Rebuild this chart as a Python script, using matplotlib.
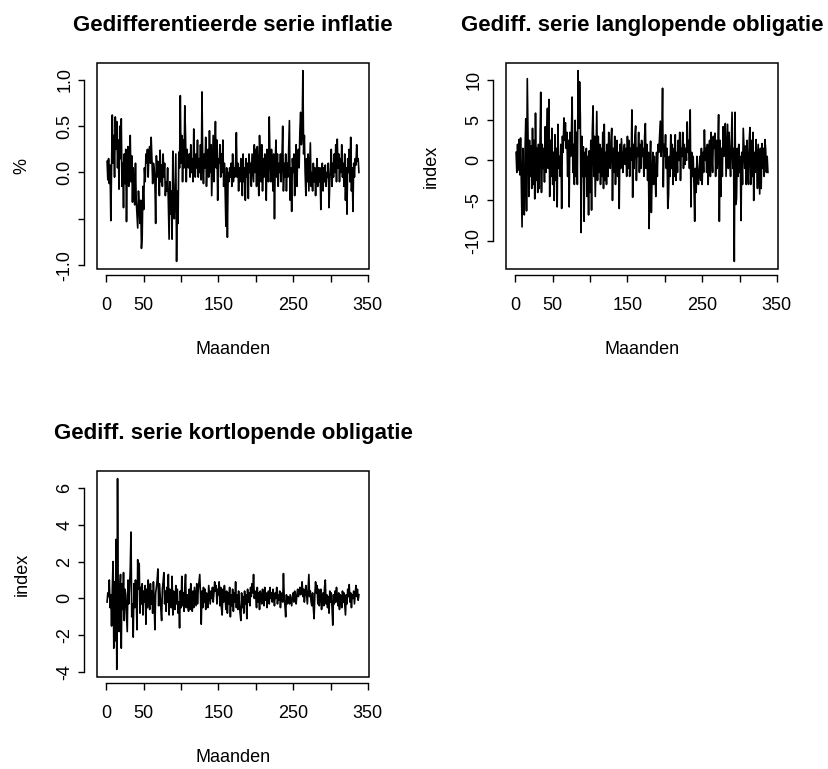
import numpy as np
import matplotlib

matplotlib.use("Agg")
from matplotlib import pyplot as plt
from matplotlib.patches import Rectangle

plt.rcParams["font.family"] = ["Liberation Sans", "DejaVu Sans"]
plt.rcParams["axes.unicode_minus"] = False

# Gedifferentieerde reeksen, 338 maanden
inflatie = [
    0.12, -0.08, 0.15, -0.12, 0.08, -0.52, 0.05, 0.62, 0.1, 0.4,
    -0.05, 0.6, 0.25, 0.55, 0.05, 0.35, -0.18, 0.5, 0.15, 0.58,
    -0.15, 0.1, -0.38, 0.2, -0.12, 0.25, -0.53, 0.1, 0.28, -0.15,
    0.0, 0.4, -0.1, 0.18, -0.32, 0.05, -0.2, -0.35, 0.1, -0.3,
    -0.45, -0.6, -0.2, -0.35, -0.55, -0.3, -0.82, -0.69, -0.15, -0.4,
    0.05, -0.1, 0.2, 0.1, 0.25, -0.05, 0.22, 0.28, 0.1, 0.38,
    0.15, -0.12, 0.1, 0.05, -0.1, -0.55, 0.18, -0.05, 0.12, 0.0,
    -0.25, 0.24, -0.1, 0.08, -0.15, 0.2, -0.05, 0.1, -0.25, -0.1,
    -0.2, 0.05, -0.35, -0.72, -0.1, -0.45, -0.2, -0.72, 0.23, -0.35,
    -0.5, -0.15, 0.2, -0.96, -0.2, -0.55, 0.22, 0.05, 0.83, 0.1,
    0.4, -0.1, 0.35, 0.05, 0.72, 0.4, -0.1, 0.25, 0.1, 0.05,
    0.2, -0.05, 0.3, 0.0, 0.15, -0.1, 0.47, 0.1, -0.05, 0.2,
    0.05, 0.35, -0.05, 0.15, 0.0, 0.3, -0.08, 0.87, 0.1, -0.12,
    0.2, 0.05, 0.38, -0.15, 0.1, 0.25, -0.05, 0.45, 0.0, 0.3,
    -0.25, 0.1, 0.4, -0.1, 0.2, 0.55, 0.05, 0.35, -0.3, 0.15,
    0.1, 0.3, -0.05, 0.2, 0.0, 0.35, -0.15, 0.1, -0.2, -0.58,
    0.05, -0.7, 0.0, -0.1, 0.05, -0.05, 0.1, -0.15, 0.2, -0.1,
    0.05, -0.05, 0.1, 0.43, -0.05, 0.1, -0.2, 0.05, -0.1, 0.15,
    0.0, -0.25, 0.2, -0.1, 0.05, -0.3, 0.15, -0.05, 0.1, -0.28,
    0.2, 0.0, 0.1, -0.15, 0.2, 0.05, -0.1, 0.3, 0.0, 0.25,
    -0.15, 0.28, 0.05, -0.25, 0.4, 0.1, -0.1, 0.3, -0.2, 0.15,
    -0.05, 0.2, 0.05, -0.3, 0.25, 0.1, -0.1, 0.6, 0.15, -0.1,
    0.25, 0.05, -0.2, 0.2, -0.5, 0.1, 0.35, -0.05, 0.2, -0.15,
    0.1, 0.0, 0.2, -0.1, 0.15, 0.5, -0.2, 0.1, -0.05, 0.2,
    -0.2, 0.1, -0.05, 0.25, 0.56, -0.3, 0.05, -0.42, 0.15, 0.0,
    0.2, -0.25, 0.1, 0.3, -0.15, 0.15, 0.25, 0.05, 0.45, 0.65,
    0.3, 0.42, 1.1, 0.2, 0.4, 0.0, -0.25, 0.15, -0.1, 0.2,
    -0.2, 0.05, 0.32, -0.15, 0.0, -0.2, 0.1, -0.1, 0.05, -0.25,
    0.0, 0.15, -0.15, 0.05, -0.1, 0.05, -0.4, 0.0, 0.1, -0.2,
    0.05, -0.1, 0.08, -0.15, 0.0, -0.05, 0.1, -0.38, -0.1, 0.05,
    0.25, -0.15, 0.1, -0.05, 0.2, 0.0, 0.3, -0.1, 0.36, 0.05,
    0.2, -0.1, 0.15, 0.0, 0.3, -0.05, 0.1, -0.15, 0.2, -0.3,
    0.05, -0.45, 0.15, 0.0, 0.25, -0.1, 0.38, -0.2, 0.05, -0.42,
    0.1, -0.05, 0.15, 0.08, 0.3, 0.12, 0.15, 0.0,
]

langlopend = [
    1.0, -1.5, 2.0, -1.2, 2.6, -1.8, 2.8, -2.5, -8.3, 1.5,
    -4.5, -6.8, 1.2, 5.2, -6.3, 10.2, 3.0, -4.5, 2.5, -2.0,
    1.8, -3.5, 4.0, -3.0, 2.5, -4.8, 5.9, -2.5, 1.5, -4.0,
    2.0, -3.5, 1.8, 8.5, -4.0, 2.0, -1.0, 1.5, -2.7, 4.2,
    -1.5, 3.0, 6.5, -1.0, 7.6, -4.5, 2.5, -2.0, 4.0, -3.0,
    1.0, -5.0, 3.2, -2.5, 1.5, -5.8, 4.5, -1.0, 0.5, -2.0,
    2.0, -6.0, 3.0, 1.0, 5.3, 2.5, 4.7, 1.5, 3.5, -2.0,
    2.5, -5.8, 3.5, 0.5, 3.0, 7.9, -1.5, 2.0, -3.0, 5.0,
    -2.0, 3.5, -3.0, 11.2, 4.0, 9.8, 5.5, -9.0, 3.0, -2.0,
    1.7, -7.6, 1.0, -2.0, 1.5, -4.5, 0.5, -6.8, 1.2, -4.0,
    2.5, -6.2, 3.5, 6.8, -2.0, 3.0, -4.5, 1.0, 6.1, -2.5,
    3.0, -1.5, 2.0, -3.0, 1.5, -2.0, 3.5, -3.5, 4.5, -2.5,
    1.0, -3.0, 2.0, -2.0, 3.5, 0.0, -1.0, 2.5, 4.0, -5.0,
    1.5, -1.5, 3.0, -3.0, 0.5, 2.5, -2.0, 1.0, -6.0, 2.0,
    -1.0, 2.7, 0.5, -1.5, 1.0, 2.0, -0.5, 1.5, -2.0, 3.0,
    -1.0, 2.5, -2.0, 1.5, 0.0, 6.3, -4.6, 2.0, -1.0, 3.0,
    4.3, -2.5, 1.5, 0.5, 3.5, -1.5, 2.0, -1.0, 2.5, 0.5,
    1.5, -2.0, 3.0, 4.6, -1.0, 2.0, -2.5, 1.0, -8.5, -1.5,
    2.4, -6.5, -2.0, 1.0, -3.0, 0.5, -1.5, -4.5, 1.0, -2.0,
    2.0, 1.0, 3.0, 4.9, 0.5, 2.5, 9.0, -3.3, 2.0, 0.5,
    3.2, -1.0, 1.5, -6.0, -4.5, 0.5, -2.0, 3.2, -1.0, 2.0,
    -3.0, 1.5, -2.0, 3.2, -2.5, 1.0, -1.5, 2.5, 0.0, 3.5,
    -2.5, 1.5, 0.5, 3.5, -1.0, 2.0, -0.5, 1.5, 0.0, 4.8,
    1.0, 2.5, -1.0, 6.3, -5.8, 1.0, -2.0, 0.5, -3.0, -7.6,
    -1.0, -4.0, 0.5, -2.0, -3.0, -1.0, 0.5, -2.5, 1.5, -3.0,
    1.0, -1.5, 3.8, 0.0, 1.5, -1.5, 2.0, -3.0, 1.0, 2.5,
    -2.0, 3.5, 0.5, -1.5, 3.0, 1.5, 3.4, -2.0, 2.5, -1.0,
    1.5, 5.7, -7.6, 2.5, -4.5, 1.5, -2.0, 4.2, 0.5, 3.0,
    4.6, -2.0, 1.5, 4.5, -1.0, 3.5, 0.5, -2.0, 2.0, 6.0,
    -1.0, 1.5, -12.6, 6.0, -5.5, -4.8, 1.5, -2.0, 2.0, -1.5,
    0.5, -7.5, 1.0, -3.0, 4.0, 1.5, -1.0, 1.8, -3.0, 2.5,
    -1.0, -3.0, 2.5, 4.1, -3.0, 2.5, -2.0, 3.5, -5.0, 1.0,
    -1.5, 2.6, 0.5, -3.5, 2.0, -1.0, -4.2, 1.5, -3.5, 2.1,
    -1.0, 1.5, -2.0, 2.6, 1.3, -1.5, 0.5, -1.5,
]

kortlopend = [
    -0.2, 0.3, 0.1, 1.0, -0.5, 0.2, -1.5, 0.5, 2.0, -2.7,
    0.9, -2.3, 3.2, -3.85, 6.5, -0.5, -1.8, 0.5, 1.3, -2.7,
    0.8, -0.6, 1.4, -1.2, 0.5, 0.2, -0.8, -1.8, 1.0, -0.3,
    0.5, 1.6, 3.6, -1.0, -0.3, -2.1, 0.8, -0.5, 1.0, 0.2,
    -1.7, 2.1, 0.5, 1.9, -0.8, 0.6, -0.3, 0.8, -0.9, 0.4,
    -0.2, 0.7, -1.4, 0.5, -0.5, 1.0, 0.1, -0.6, 0.8, -0.3,
    0.4, -0.8, 0.9, -0.2, -1.7, 0.3, 0.6, 1.0, 1.6, -0.4,
    0.8, 0.2, -0.6, -1.2, 0.5, 0.9, 1.4, -0.3, 0.4, -0.7,
    0.6, -0.2, 1.3, -0.9, 0.5, 0.3, -0.5, 1.2, -0.9, 0.4,
    0.2, -0.6, 0.7, -0.3, 0.5, -0.8, -0.2, -1.6, 0.4, -0.5,
    1.2, -0.4, 0.3, -0.7, 0.6, 1.3, -0.5, 0.2, -0.3, -0.7,
    0.5, -0.6, 0.8, -0.2, -0.7, 0.4, -0.5, 0.6, 0.1, -0.4,
    0.8, -0.3, 0.5, 0.9, 1.3, 0.2, -1.4, 0.4, -0.5, 0.6,
    -0.2, 0.5, -0.6, 0.3, 0.1, -0.5, 0.7, 0.2, -0.3, 0.4,
    0.0, 0.6, -0.2, 0.3, 0.9, 0.4, 0.7, -0.3, 0.5, 0.2,
    0.9, -0.4, 0.6, -0.5, -0.9, 0.5, -0.2, 0.7, 0.1, -0.6,
    0.4, -0.8, 0.3, -0.3, 0.6, -1.0, 0.2, -0.4, 0.5, -0.7,
    0.3, -0.2, 0.9, -0.5, 0.2, -0.6, 0.4, -0.3, -0.8, -1.2,
    0.3, -0.5, 0.1, -0.8, 0.4, -0.3, 0.2, -1.1, 0.5, -0.2,
    0.3, -0.4, 0.6, 0.1, 0.8, 0.3, 1.3, 0.0, 0.4, 0.1,
    -0.5, 0.6, -0.2, 0.3, -0.6, 0.4, 0.1, -0.3, 0.5, 0.2,
    -0.4, 0.6, -0.1, 0.3, -0.5, 0.2, 0.4, -0.3, 0.6, 0.0,
    0.3, -0.2, 0.5, 0.1, -0.4, 0.3, 0.0, 0.6, -0.3, 0.2,
    -0.1, 0.4, -0.5, 0.2, 0.3, -0.2, 1.35, 0.1, -0.4, -1.0,
    0.2, -0.3, 0.1, 0.0, -0.3, 0.2, -0.1, -0.4, 0.1, 0.3,
    -0.2, 0.4, 0.0, -0.3, 0.2, 0.5, 0.1, 0.3, 0.6, 0.2,
    0.4, 0.9, 0.1, 0.5, -0.2, 0.3, 0.7, 0.2, -0.3, 0.5,
    1.3, 0.1, 0.4, -0.2, -0.4, 0.3, -0.5, -1.1, 0.2, 0.9,
    0.3, 0.7, -0.3, 0.5, -0.4, 0.2, 0.5, -0.6, 0.1, 0.3,
    -0.4, 0.6, 1.0, -0.3, 0.2, -0.5, 0.1, -0.8, 0.4, -0.2,
    0.3, -0.5, -1.45, 0.2, -0.3, 0.4, -0.2, 0.6, 0.0, -0.4,
    0.3, -0.6, 0.2, 0.1, -0.5, 0.4, -0.2, 0.3, -0.3, -0.9,
    0.2, -0.3, 0.5, 0.1, 0.75, -0.2, 0.3, -0.5, 0.2, 0.0,
    0.4, -0.3, 0.2, 0.7, 0.1, 0.5, -0.1, 0.2,
]

titels = [
    "Gedifferentieerde serie inflatie",
    "Gediff. serie langlopende obligatie",
    "Gediff. serie kortlopende obligatie",
]
y_labels = ["%", "index", "index"]
x_ticks = [0, 50, 100, 150, 200, 250, 300, 350]
x_tick_labels = ["0", "50", "", "150", "", "250", "", "350"]
y_ticks = [
    [-1.0, -0.5, 0.0, 0.5, 1.0],
    [-10, -5, 0, 5, 10],
    [-4, -2, 0, 2, 4, 6],
]
y_tick_labels = [
    ["-1.0", "", "0.0", "0.5", "1.0"],
    ["-10", "-5", "0", "5", "10"],
    ["-4", "-2", "0", "2", "4", "6"],
]

W, H = 829, 769


def r_limits(values):
    """Bereik zoals R het kiest: 4% extra aan beide kanten."""
    lo, hi = np.min(values), np.max(values)
    d = 0.04 * (hi - lo)
    return lo - d, hi + d


def r_panel(fig, box, serie, titel, ylabel, yticks, yticklabels):
    left, top, width, height = box
    ax = fig.add_axes([left / W, 1 - (top + height) / H, width / W, height / H])
    maanden = np.arange(1, len(serie) + 1)
    ax.plot(maanden, serie, color="black", lw=1.2)

    ax.set_xlim(*r_limits(maanden))
    ax.set_ylim(*r_limits(serie))

    # kader rond het plotgebied
    ax.add_patch(Rectangle((0, 0), 1, 1, transform=ax.transAxes, fill=False,
                           lw=1.1, edgecolor="black", clip_on=False))

    # assen los van het kader, zoals in R
    for side in ["top", "right"]:
        ax.spines[side].set_visible(False)
    ax.spines["bottom"].set_position(("outward", 4.5))
    ax.spines["left"].set_position(("outward", 9.4))
    ax.spines["bottom"].set_bounds(x_ticks[0], x_ticks[-1])
    ax.spines["left"].set_bounds(yticks[0], yticks[-1])
    for side in ["bottom", "left"]:
        ax.spines[side].set_linewidth(1.0)

    ax.set_xticks(x_ticks)
    ax.set_xticklabels(x_tick_labels)
    ax.set_yticks(yticks)
    ax.set_yticklabels(yticklabels, rotation=90, va="center")
    ax.tick_params(axis="x", length=5, width=1.0, pad=11, labelsize=13)
    ax.tick_params(axis="y", length=4.5, width=1.0, pad=3, labelsize=13)

    ax.set_xlabel("Maanden", fontsize=13, va="center")
    ax.xaxis.set_label_coords(0.5, -81 / height)
    ax.set_ylabel(ylabel, fontsize=13, va="center")
    ax.yaxis.set_label_coords(-75 / width, 0.5)
    ax.set_title(titel, fontsize=16, fontweight="bold", pad=23)
    return ax


fig = plt.figure(figsize=(W / 100, H / 100), dpi=100)
boxes = [(97, 63, 272, 206), (506, 63, 272, 206), (97, 471, 272, 206)]
series = [inflatie, langlopend, kortlopend]
for i in range(3):
    r_panel(fig, boxes[i], series[i], titels[i], y_labels[i], y_ticks[i], y_tick_labels[i])

fig.savefig("out.png", dpi=100)
